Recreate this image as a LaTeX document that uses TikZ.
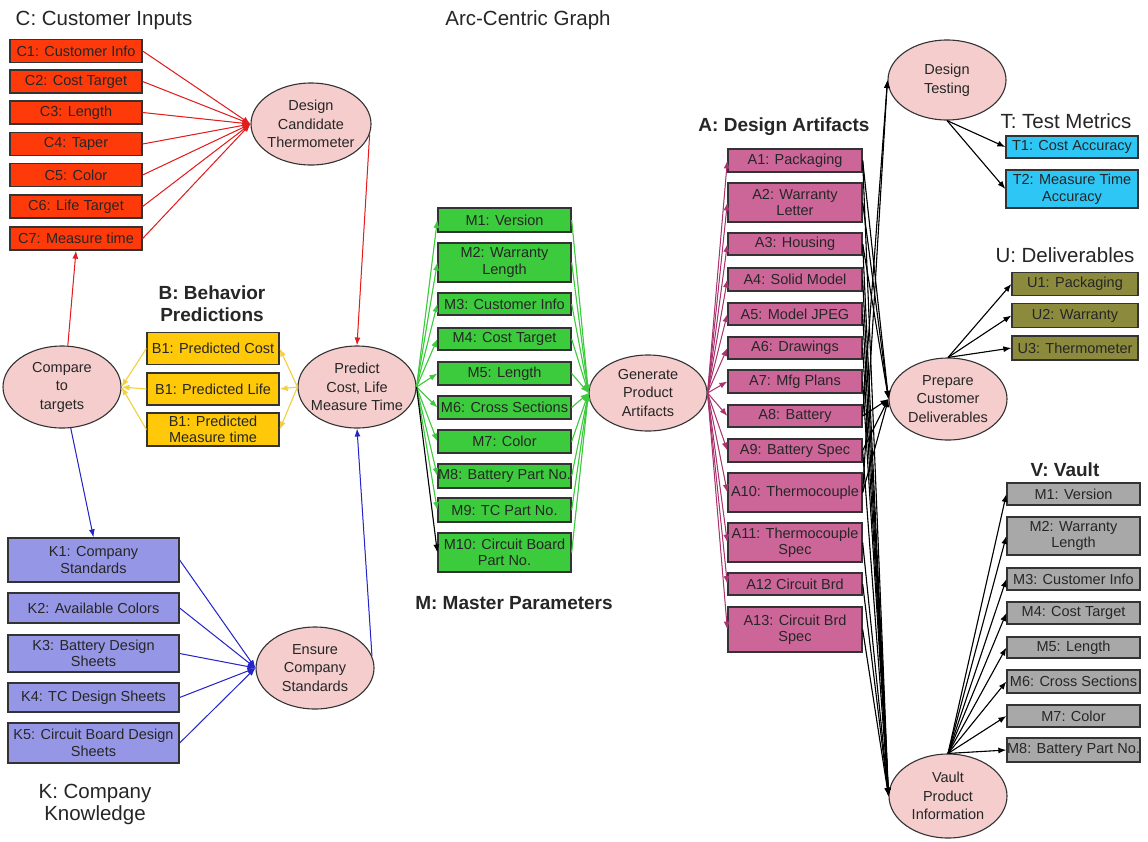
\documentclass[tikz,border=0pt]{standalone}
\usepackage{fontspec}
\setmainfont{Liberation Sans}
\usetikzlibrary{shapes.geometric,arrows.meta}
\definecolor{ellfill}{HTML}{F5CDCD}
\definecolor{edgeline}{HTML}{333333}
\definecolor{cfill}{HTML}{FF3A0A}
\definecolor{bfill}{HTML}{FFC90A}
\definecolor{kfill}{HTML}{9696E6}
\definecolor{mfill}{HTML}{3CCB3C}
\definecolor{afill}{HTML}{CC6699}
\definecolor{tfill}{HTML}{2EC6F5}
\definecolor{ufill}{HTML}{8C8A3C}
\definecolor{vfill}{HTML}{A8A8A8}
\definecolor{redl}{HTML}{E41C1C}
\definecolor{yell}{HTML}{F4D040}
\definecolor{bluel}{HTML}{2626C8}
\definecolor{greenl}{HTML}{3CCB3C}
\definecolor{pinkl}{HTML}{A8336E}
\newcommand\boxfont{\fontsize{14.5}{16.5}\selectfont}
\newcommand\ellfont{\fontsize{14.5}{18.5}\selectfont}
\newcommand\titfont{\fontsize{20.5}{22}\selectfont}
\newcommand\grpfont{\fontsize{19}{22}\selectfont\bfseries}
\tikzset{
  box/.style={draw=edgeline, line width=1.3pt, inner sep=0pt, align=center, font=\boxfont, text=black!85},
  cbox/.style={box, fill=cfill, minimum width=132pt},
  bbox/.style={box, fill=bfill, minimum width=132pt},
  kbox/.style={box, fill=kfill, minimum width=171pt},
  mbox/.style={box, fill=mfill, minimum width=133pt},
  abox/.style={box, fill=afill, minimum width=134pt},
  tbox/.style={box, fill=tfill, minimum width=132pt},
  ubox/.style={box, fill=ufill, minimum width=126pt},
  vbox/.style={box, fill=vfill, minimum width=133pt},
  proc/.style={ellipse, draw=edgeline, fill=ellfill, line width=1.1pt, minimum width=118pt, minimum height=82pt, inner sep=0pt},
  ptext/.style={align=center, font=\ellfont, text=black!85},
  grp/.style={align=center, font=\titfont, text=black!85},
  grpb/.style={align=center, font=\grpfont, text=black!85},
  tip/.style={-{Latex[length=8pt,width=6pt]}},
  redarr/.style={tip, draw=redl, fill=redl, line width=1pt},
  yarr/.style={tip, draw=yell, fill=yell, line width=1.1pt},
  bluearr/.style={tip, draw=bluel, fill=bluel, line width=1pt},
  grarr/.style={tip, draw=greenl, fill=greenl, line width=1.1pt},
  pkarr/.style={tip, draw=pinkl, fill=pinkl, line width=1pt},
  bkarr/.style={tip, draw=black, fill=black, line width=1.1pt},
}
\begin{document}
\begin{tikzpicture}[x=1pt,y=-1pt]
\useasboundingbox (0,0) rectangle (1148,841);
\fill[white] (0,0) rectangle (1148,841);

% titles
\node[grp] (title) at (528,20) {Arc-Centric Graph};
\node[grp] (tC) at (104,20) {C: Customer Inputs};
\node[grpb] (tB) at (212,304) {B: Behavior\\Predictions};
\node[grp] (tK) at (95,804) {K: Company\\Knowledge};
\node[grpb] (tM) at (514,603) {M: Master Parameters};
\node[grpb] (tA) at (784,127) {A: Design Artifacts};
\node[grp] (tT) at (1066,121) {T: Test Metrics};
\node[grp] (tU) at (1065,255) {U: Deliverables};
\node[grpb] (tV) at (1065,470) {V: Vault};

% ellipses
\node[proc, minimum width=120pt, label={[ptext]center:{Design\\Candidate\\Thermometer}}] (dct) at (311,124) {};
\node[proc, label={[ptext]center:{Compare\\to\\targets}}] (cmp) at (62,387) {};
\node[proc, label={[ptext]center:{Predict\\Cost, Life\\Measure Time}}] (pred) at (357,387) {};
\node[proc, label={[ptext]center:{Ensure\\Company\\Standards}}] (ens) at (315,668) {};
\node[proc, minimum height=76pt, label={[ptext]center:{Generate\\Product\\Artifacts}}] (gen) at (648,393) {};
\node[proc, minimum height=80pt, label={[ptext]center:{Design\\Testing}}] (dt) at (947,80) {};
\node[proc, label={[ptext]center:{Prepare\\Customer\\Deliverables}}] (prep) at (948,399) {};
\node[proc, minimum height=84pt, label={[ptext]center:{Vault\\Product\\Information}}] (vault) at (948,796) {};

% C boxes
\node[cbox, minimum height=23pt] (c1) at (76,51) {C1: Customer Info};
\node[cbox, minimum height=23pt] (c2) at (76,81.5) {C2: Cost Target};
\node[cbox, minimum height=23pt] (c3) at (76,112.5) {C3: Length};
\node[cbox, minimum height=23pt] (c4) at (76,144) {C4: Taper};
\node[cbox, minimum height=23pt] (c5) at (76,175) {C5: Color};
\node[cbox, minimum height=23pt] (c6) at (76,206.5) {C6: Life Target};
\node[cbox, minimum height=23pt] (c7) at (76,238.5) {C7: Measure time};

% B boxes
\node[bbox, minimum height=32pt] (b1) at (213,348.5) {B1: Predicted Cost};
\node[bbox, minimum height=32pt] (b2) at (213,389) {B1: Predicted Life};
\node[bbox, minimum height=33pt] (b3) at (213,429.5) {B1: Predicted\\Measure time};

% K boxes
\node[kbox, minimum height=44pt] (k1) at (93.5,560) {K1: Company\\Standards};
\node[kbox, minimum height=30pt] (k2) at (93.5,608) {K2: Available Colors};
\node[kbox, minimum height=37pt] (k3) at (93.5,653.5) {K3: Battery Design\\Sheets};
\node[kbox, minimum height=29pt] (k4) at (93.5,697.5) {K4: TC Design Sheets};
\node[kbox, minimum height=40pt] (k5) at (93.5,743) {K5: Circuit Board Design\\Sheets};

% M boxes
\node[mbox, minimum height=24pt] (m1) at (504.5,220) {M1: Version};
\node[mbox, minimum height=39pt] (m2) at (504.5,262.5) {M2: Warranty\\Length};
\node[mbox, minimum height=22pt] (m3) at (504.5,304) {M3: Customer Info};
\node[mbox, minimum height=22pt] (m4) at (504.5,339) {M4: Cost Target};
\node[mbox, minimum height=23pt] (m5) at (504.5,373.5) {M5: Length};
\node[mbox, minimum height=23pt] (m6) at (504.5,407.5) {M6: Cross Sections};
\node[mbox, minimum height=23pt] (m7) at (504.5,441.5) {M7: Color};
\node[mbox, minimum height=24pt] (m8) at (504.5,476) {M8: Battery Part No.};
\node[mbox, minimum height=24pt] (m9) at (504.5,510) {M9: TC Part No.};
\node[mbox, minimum height=39pt] (m10) at (504.5,552.5) {M10: Circuit Board\\Part No.};

% A boxes
\node[abox, minimum height=23pt] (a1) at (795,160.5) {A1: Packaging};
\node[abox, minimum height=39pt] (a2) at (795,202.5) {A2: Warranty\\Letter};
\node[abox, minimum height=22pt] (a3) at (795,244) {A3: Housing};
\node[abox, minimum height=23pt] (a4) at (795,279.5) {A4: Solid Model};
\node[abox, minimum height=22pt] (a5) at (795,314) {A5: Model JPEG};
\node[abox, minimum height=22pt] (a6) at (795,348) {A6: Drawings};
\node[abox, minimum height=23pt] (a7) at (795,381.5) {A7: Mfg Plans};
\node[abox, minimum height=22pt] (a8) at (795,416) {A8: Battery};
\node[abox, minimum height=23pt] (a9) at (795,450.5) {A9: Battery Spec};
\node[abox, minimum height=39pt] (a10) at (795,492.5) {A10: Thermocouple};
\node[abox, minimum height=39pt] (a11) at (795,542.5) {A11: Thermocouple\\Spec};
\node[abox, minimum height=22pt] (a12) at (795,584) {A12 Circuit Brd};
\node[abox, minimum height=45pt] (a13) at (795,629.5) {A13: Circuit Brd\\Spec};

% T boxes
\node[tbox, minimum height=22pt] (t1) at (1072,147) {T1: Cost Accuracy};
\node[tbox, minimum height=38pt] (t2) at (1072,189) {T2: Measure Time\\Accuracy};

% U boxes
\node[ubox, minimum height=23pt] (u1) at (1075,284) {U1: Packaging};
\node[ubox, minimum height=24pt] (u2) at (1075,315.5) {U2: Warranty};
\node[ubox, minimum height=24pt] (u3) at (1075,348) {U3: Thermometer};

% V boxes
\node[vbox, minimum height=22pt] (v1) at (1073.5,494) {M1: Version};
\node[vbox, minimum height=38pt] (v2) at (1073.5,536) {M2: Warranty\\Length};
\node[vbox, minimum height=22pt] (v3) at (1073.5,579) {M3: Customer Info};
\node[vbox, minimum height=22pt] (v4) at (1073.5,613) {M4: Cost Target};
\node[vbox, minimum height=21pt] (v5) at (1073.5,647.5) {M5: Length};
\node[vbox, minimum height=23pt] (v6) at (1073.5,681.5) {M6: Cross Sections};
\node[vbox, minimum height=22pt] (v7) at (1073.5,716) {M7: Color};
\node[vbox, minimum height=24pt] (v8) at (1073.5,750) {M8: Battery Part No.};

% connectors: red
\foreach \i in {1,...,7} \draw[redarr] (c\i.east) -- (dct.west);
\draw[redarr] (dct.-10) -- (pred.north);
\draw[redarr] (cmp.82) -- (c7.south);
% blue
\draw[bluearr] (cmp.-78) -- (k1.north);
\foreach \i in {1,...,5} \draw[bluearr] (k\i.east) -- (ens.west);
\draw[bluearr] (ens.12) -- (pred.south);
% yellow
\foreach \b in {b1,b2,b3} {
  \draw[yarr] (pred.west) -- (\b.east);
  \draw[yarr] (\b.west) -- (cmp.east);
}
% green
\foreach \i in {1,...,9} \draw[grarr] (pred.east) -- (m\i.west);
\draw[bkarr] (pred.east) -- (m10.west);
\foreach \i in {1,...,10} \draw[grarr] (m\i.east) -- (gen.west);
% pink
\foreach \i in {1,...,13} \draw[pkarr] (gen.east) -- (a\i.west);
% black from artifacts
\foreach \i in {8,10} \draw[bkarr] (a\i.east) -- (dt.west);
\foreach \i in {1,2,3,8,9,10} \draw[bkarr] (a\i.east) -- (prep.west);
\foreach \i in {1,3,4,5,6,7,9,11,12,13} \draw[bkarr] (a\i.east) -- (vault.west);
% outputs
\foreach \i in {1,2} \draw[bkarr] (dt.south) -- (t\i.west);
\foreach \i in {1,2,3} \draw[bkarr] (prep.north) -- (u\i.west);
\foreach \i in {1,...,8} \draw[bkarr] (vault.north) -- (v\i.west);
\end{tikzpicture}
\end{document}
